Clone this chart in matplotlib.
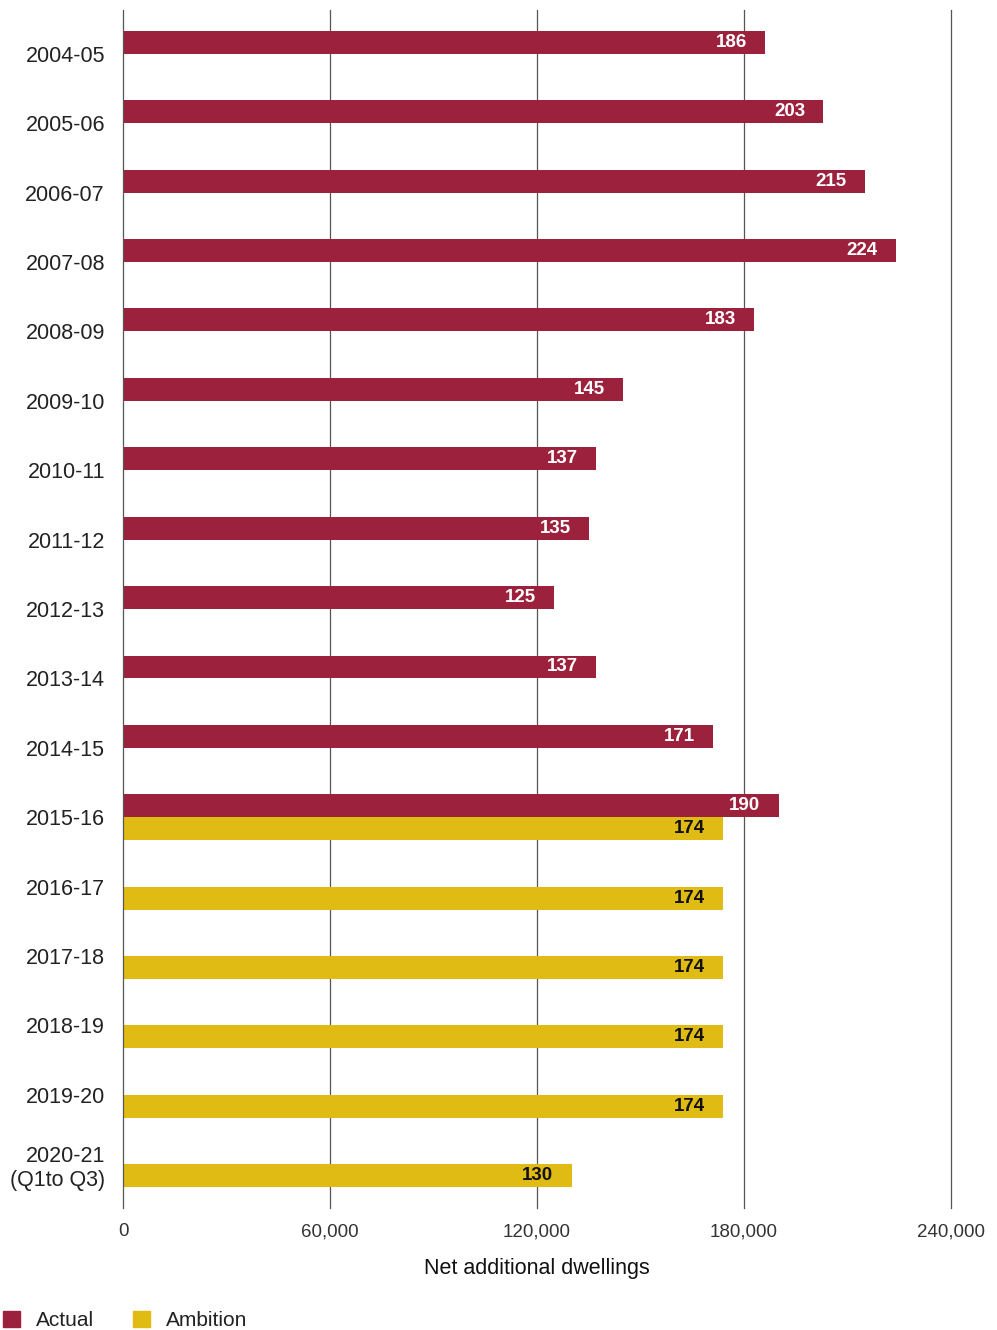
import matplotlib.pyplot as plt
import numpy as np
from matplotlib.patches import Patch
from matplotlib.ticker import FuncFormatter

plt.rcParams['font.family'] = ['Liberation Sans', 'DejaVu Sans']

# Net additional dwellings, thousands
years = ['2004-05', '2005-06', '2006-07', '2007-08', '2008-09', '2009-10',
         '2010-11', '2011-12', '2012-13', '2013-14', '2014-15', '2015-16',
         '2016-17', '2017-18', '2018-19', '2019-20', '2020-21\n(Q1to Q3)']
actual = [186, 203, 215, 224, 183, 145, 137, 135, 125, 137, 171, 190,
          None, None, None, None, None]
ambition = [None, None, None, None, None, None, None, None, None, None, None,
            174, 174, 174, 174, 174, 130]

maroon = '#9b213d'
gold = '#e0bb14'
grid_col = '#555555'

fig = plt.figure(figsize=(9.97, 13.3), dpi=100)
ax = fig.add_axes([0.1234, 0.0917, 0.8305, 0.9008])

y = np.arange(len(years))
h = 0.33

for i, v in enumerate(actual):
    if v is None:
        continue
    ax.barh(y[i] - h / 2, v * 1000, height=h, color=maroon, zorder=2)
    ax.annotate(str(v), (v * 1000, y[i] - h / 2), xytext=(-13, 0),
                textcoords='offset points', ha='right', va='center',
                color='white', fontsize=13.5, fontweight='bold', zorder=4)

for i, v in enumerate(ambition):
    if v is None:
        continue
    ax.barh(y[i] + h / 2, v * 1000, height=h, color=gold, zorder=2)
    ax.annotate(str(v), (v * 1000, y[i] + h / 2), xytext=(-13, 0),
                textcoords='offset points', ha='right', va='center',
                color='#111111', fontsize=13.5, fontweight='bold', zorder=4)

ax.set_xlim(0, 240000)
ax.set_ylim(len(years) - 1 + 0.63, -0.63)

ax.set_xticks([0, 60000, 120000, 180000, 240000])
ax.xaxis.set_major_formatter(FuncFormatter(lambda x, p: f'{int(x):,}'))
ax.set_yticks(y)
ax.set_yticklabels(years, ha='right')

# vertical gridlines sit behind the bars
for xv in [60000, 120000, 180000, 240000]:
    ax.axvline(xv, color=grid_col, lw=0.9, zorder=1, clip_on=False)

for s in ['top', 'right', 'bottom']:
    ax.spines[s].set_visible(False)
ax.spines['left'].set_color(grid_col)
ax.spines['left'].set_linewidth(0.9)
ax.spines['left'].set_zorder(3)

ax.tick_params(axis='y', length=0, pad=13, labelsize=15.5, labelcolor='#222222')
ax.tick_params(axis='x', length=0, pad=11, labelsize=13.5, labelcolor='#333333')

ax.set_xlabel('Net additional dwellings', fontsize=15.5, color='#111111',
              labelpad=13)

handles = [Patch(color=maroon, label='Actual'), Patch(color=gold, label='Ambition')]
fig.legend(handles=handles, loc='lower left', bbox_to_anchor=(0.003, 0), ncol=2,
           frameon=False, fontsize=15, handlelength=0.8, handleheight=0.8,
           handletextpad=0.8, columnspacing=1.85, borderpad=0.0,
           borderaxespad=0.0, labelcolor='#222222')

fig.savefig('out.png', dpi=100)
